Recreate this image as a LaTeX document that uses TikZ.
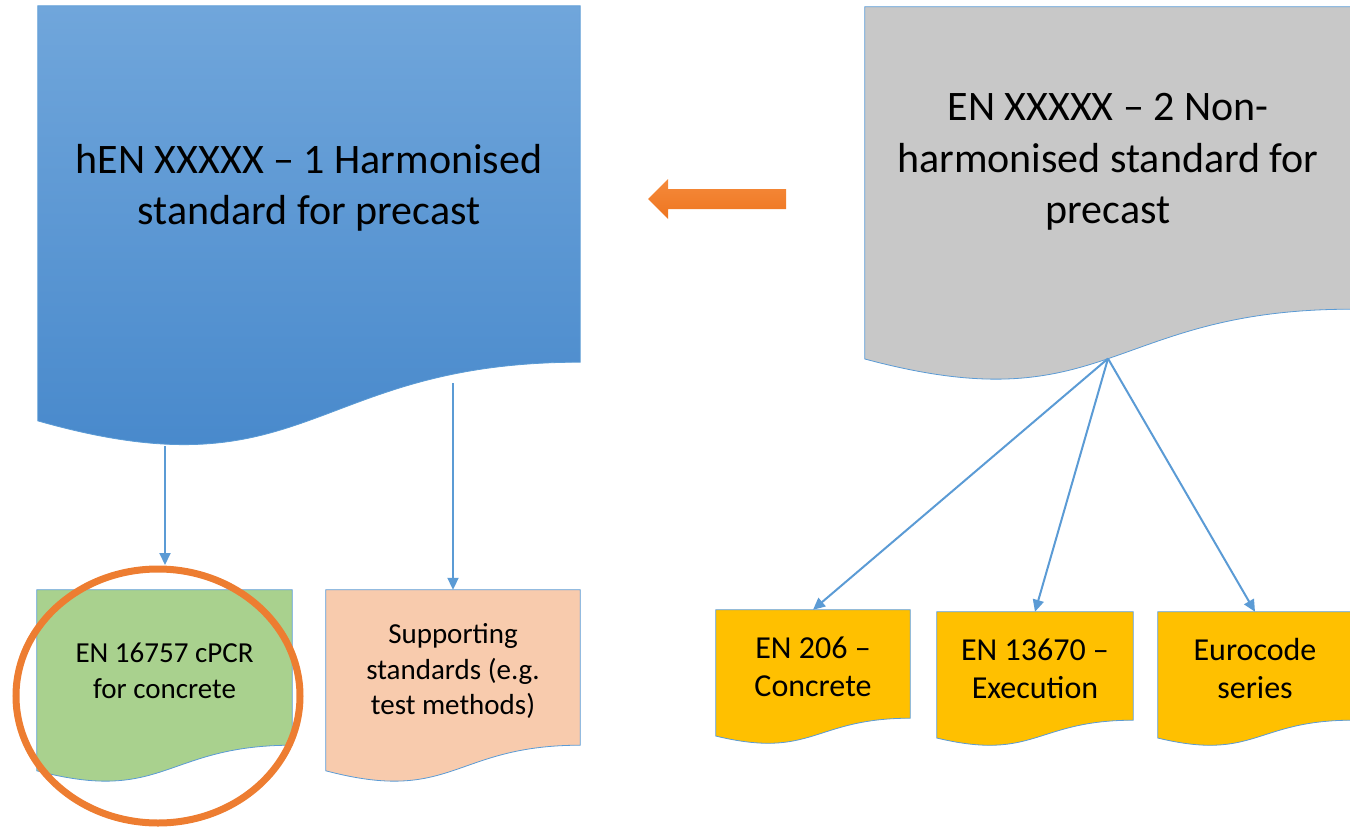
\documentclass[tikz,border=0pt]{standalone}
\usepackage{fontspec}
\setmainfont{Carlito}
\usetikzlibrary{calc,arrows.meta,shapes.geometric}
\pgfdeclarelayer{bg}
\pgfsetlayers{bg,main}

\definecolor{blueTop}{HTML}{70A6DB}
\definecolor{blueBot}{HTML}{4486CA}
\definecolor{docGray}{HTML}{C8C8C8}
\definecolor{docGreen}{HTML}{A9D18E}
\definecolor{docPink}{HTML}{F8CBAD}
\definecolor{docYellow}{HTML}{FFC000}
\definecolor{lineBlue}{HTML}{5B9BD5}
\definecolor{ringOrange}{HTML}{ED7D31}
\definecolor{arrTop}{HTML}{F58A3B}
\definecolor{arrBot}{HTML}{EE7520}

% Document (wavy-bottom) outline around the text area of a node:
% the node is the text rectangle, the wave hangs below it.
\newcommand\docpath[2]{%
  \path[#2] let \p1=(#1.north west), \p2=(#1.south east) in
    (\x1,\y1) -- (\x2,\y1) -- (\x2,\y2)
    .. controls ({(\x1+\x2)/2},\y2) and ({(\x1+\x2)/2},{\y1+1.3815*(\y2-\y1)})
    .. (\x1,{\y1+1.1646*(\y2-\y1)}) -- cycle;}

\tikzset{
  docbox/.style={inner sep=0pt},
  doctext/.style={inner sep=0pt, align=center, text=black},
  bigtext/.style={doctext, yshift=-4pt, font=\fontsize{42}{51.5}\selectfont},
  smalltext/.style={doctext, yshift=-3.5pt, font=\fontsize{29}{35.5}\selectfont},
  mediumtext/.style={doctext, yshift=-3pt, font=\fontsize{32}{38}\selectfont},
  docedge/.style={draw=lineBlue, line width=0.8pt},
  conn/.style={draw=lineBlue, line width=2pt, -{Triangle[length=12pt,width=11pt]}},
}

\begin{document}
\begin{tikzpicture}[x=1pt,y=-1pt]
\useasboundingbox (0,0) rectangle (1350,827);

% main standards
\node[docbox,minimum width=542,minimum height=356,
  label={[bigtext]center:{hEN XXXXX – 1 Harmonised\\standard for precast}}] (blue) at (309,184) {};
\node[docbox,minimum width=486,minimum height=302,
  label={[bigtext]center:{EN XXXXX – 2 Non-\\harmonised standard for\\precast}}] (gray) at (1108,158) {};

% referenced documents
\node[docbox,minimum width=255,minimum height=155,
  label={[smalltext]center:{EN 16757 cPCR\\for concrete}}] (green) at (164.5,667.5) {};
\node[docbox,minimum width=254,minimum height=155,
  label={[smalltext]center:{Supporting\\standards (e.g.\\test methods)}}] (pink) at (453,667.5) {};
\node[docbox,minimum width=194,minimum height=108,
  label={[mediumtext]center:{EN 206 –\\Concrete}}] (ena) at (813,664) {};
\node[docbox,minimum width=196,minimum height=108,
  label={[mediumtext]center:{EN 13670 –\\Execution}}] (enb) at (1035,666) {};
\node[docbox,minimum width=194,minimum height=108,
  label={[mediumtext]center:{Eurocode\\series}}] (enc) at (1255,666) {};

\begin{pgfonlayer}{bg}
  \docpath{blue}{top color=blueTop, bottom color=blueBot, docedge}
  \docpath{gray}{fill=docGray, docedge}
  \docpath{green}{fill=docGreen, docedge}
  \docpath{pink}{fill=docPink, docedge}
  \docpath{ena}{fill=docYellow, docedge}
  \docpath{enb}{fill=docYellow, docedge}
  \docpath{enc}{fill=docYellow, docedge}
\end{pgfonlayer}

% connector end points
\path let \p1=(gray.north), \p2=(gray.south) in
  coordinate (grayfoot) at (\x2,{\y2+0.1633*(\y2-\y1)});
\coordinate (blueoutA) at (165,446);
\coordinate (greenin) at (165,565);
\coordinate (blueoutB) at (453,383);

\draw[conn] (blueoutA) -- (greenin);
\draw[conn] (blueoutB) -- (pink.north);
\draw[conn] (grayfoot) -- (ena.north);
\draw[conn] (grayfoot) -- (enb.north);
\draw[conn] (grayfoot) -- (enc.north);

% block arrow between the two standards
\path[top color=arrTop, bottom color=arrBot]
  (786,189) -- (668,189) -- (668,179) -- (648,199) -- (668,219)
  -- (668,209) -- (786,209) -- cycle;

% highlight ring
\node[ellipse, draw=ringOrange, line width=7pt, minimum width=284, minimum height=254,
      inner sep=0pt] (ring) at (158,696) {};
\end{tikzpicture}
\end{document}
